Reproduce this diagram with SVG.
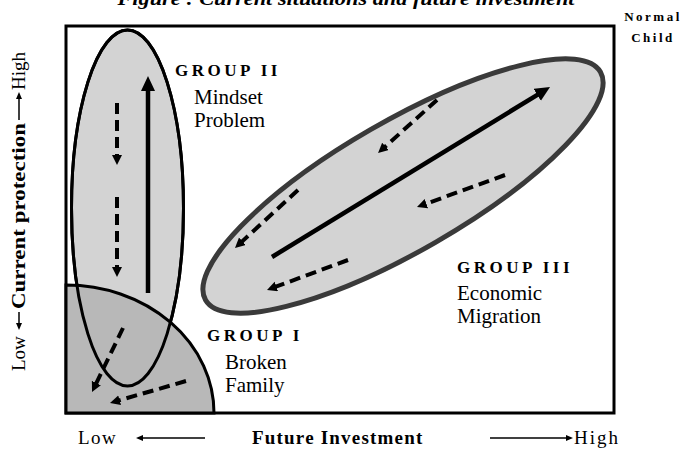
<svg xmlns="http://www.w3.org/2000/svg" width="686" height="450" viewBox="0 0 686 450">
<style>
.t{font-family:"Liberation Serif","Times New Roman",serif;fill:#000}
.g{font-weight:bold;font-size:17px;letter-spacing:3.5px}
.s{font-size:21px}
.ax{font-size:19px}
.b{font-weight:bold}
.sol{stroke:#000;stroke-width:4.5;fill:none}
.dash{stroke:#000;stroke-width:4;fill:none;stroke-dasharray:11 6}
.thin{stroke:#000;stroke-width:1.5;fill:none}
</style>
<defs>
<marker id="ah" markerUnits="userSpaceOnUse" markerWidth="16" markerHeight="16" refX="3" refY="7" orient="auto"><path d="M0,0 L15,7 L0,14 z" fill="#000"/></marker>
<marker id="ad" markerUnits="userSpaceOnUse" markerWidth="12" markerHeight="12" refX="2" refY="5" orient="auto"><path d="M0,0 L10,5 L0,10 z" fill="#000"/></marker>
<marker id="at" markerUnits="userSpaceOnUse" markerWidth="10" markerHeight="10" refX="1" refY="3" orient="auto"><path d="M0,0 L7,3 L0,6 z" fill="#000"/></marker>
</defs>

<text class="t b" x="346" y="5" font-style="italic" font-size="19" text-anchor="middle" textLength="457" lengthAdjust="spacingAndGlyphs">Figure : Current situations and future investment</text>

<g id="frame">
<rect x="66" y="26" width="548" height="387" fill="#fff" stroke="#000" stroke-width="3"/>
</g>

<g id="group2">
<ellipse cx="127.5" cy="208" rx="56" ry="178" fill="#d3d3d3" stroke="#000" stroke-width="3"/>
</g>

<g id="group1">
<path d="M66,285 A148,128 0 0 1 214,413 L66,413 z" fill="#b8b8b8" stroke="#000" stroke-width="3"/>
</g>

<g id="group2-outline">
<ellipse cx="127.5" cy="208" rx="56" ry="178" fill="none" stroke="#000" stroke-width="3"/>
</g>

<g id="group3">
<ellipse cx="403" cy="186" rx="228" ry="65" transform="rotate(-30 403 186)" fill="#d3d3d3" stroke="#3a3a3a" stroke-width="5"/>
</g>

<g id="connectors">
<line class="sol" x1="148" y1="293" x2="148" y2="88" marker-end="url(#ah)"/>
<line class="dash" x1="117" y1="103" x2="117" y2="157" marker-end="url(#ad)"/>
<line class="dash" x1="117" y1="197" x2="117" y2="269" marker-end="url(#ad)"/>
<line class="sol" x1="272" y1="257" x2="539.8" y2="93.3" marker-end="url(#ah)"/>
<line class="dash" x1="437" y1="100" x2="384" y2="147.7" marker-end="url(#ad)"/>
<line class="dash" x1="298" y1="190" x2="240.9" y2="242.6" marker-end="url(#ad)"/>
<line class="dash" x1="505" y1="175" x2="424.5" y2="204.3" marker-end="url(#ad)"/>
<line class="dash" x1="348" y1="260" x2="274.5" y2="287.2" marker-end="url(#ad)"/>
<line class="dash" x1="123" y1="328" x2="95.5" y2="384.8" marker-end="url(#ad)"/>
<line class="dash" x1="186" y1="381" x2="117.7" y2="400.8" marker-end="url(#ad)"/>
</g>

<g id="labels">
<text class="t g" x="175" y="76">GROUP II</text>
<text class="t s" x="194" y="104">Mindset</text>
<text class="t s" x="194" y="127">Problem</text>
<text class="t g" x="207" y="341">GROUP I</text>
<text class="t s" x="225" y="369">Broken</text>
<text class="t s" x="225" y="392">Family</text>
<text class="t g" x="457" y="273">GROUP III</text>
<text class="t s" x="457" y="300">Economic</text>
<text class="t s" x="457" y="323">Migration</text>
<text class="t b" x="653" y="21" font-size="13" letter-spacing="2.5" text-anchor="middle">Normal</text>
<text class="t b" x="653" y="42" font-size="13" letter-spacing="2.5" text-anchor="middle">Child</text>
</g>

<g id="x-axis">
<text class="t ax" x="78" y="444" letter-spacing="1.5">Low</text>
<line class="thin" x1="205" y1="438" x2="142" y2="438" marker-end="url(#at)"/>
<text class="t ax b" x="252" y="444" letter-spacing="1.2">Future Investment</text>
<line class="thin" x1="490" y1="438" x2="567" y2="438" marker-end="url(#at)"/>
<text class="t ax" x="574" y="444" letter-spacing="2">High</text>
</g>

<g id="y-axis">
<text class="t ax" transform="translate(25,371) rotate(-90)">Low</text>
<line class="thin" x1="19" y1="312" x2="19" y2="324" marker-end="url(#at)"/>
<text class="t ax b" transform="translate(25,309) rotate(-90)" textLength="186" lengthAdjust="spacingAndGlyphs">Current protection</text>
<line class="thin" x1="19" y1="120" x2="19" y2="98" marker-end="url(#at)"/>
<text class="t ax" transform="translate(25,90) rotate(-90)">High</text>
</g>
</svg>
